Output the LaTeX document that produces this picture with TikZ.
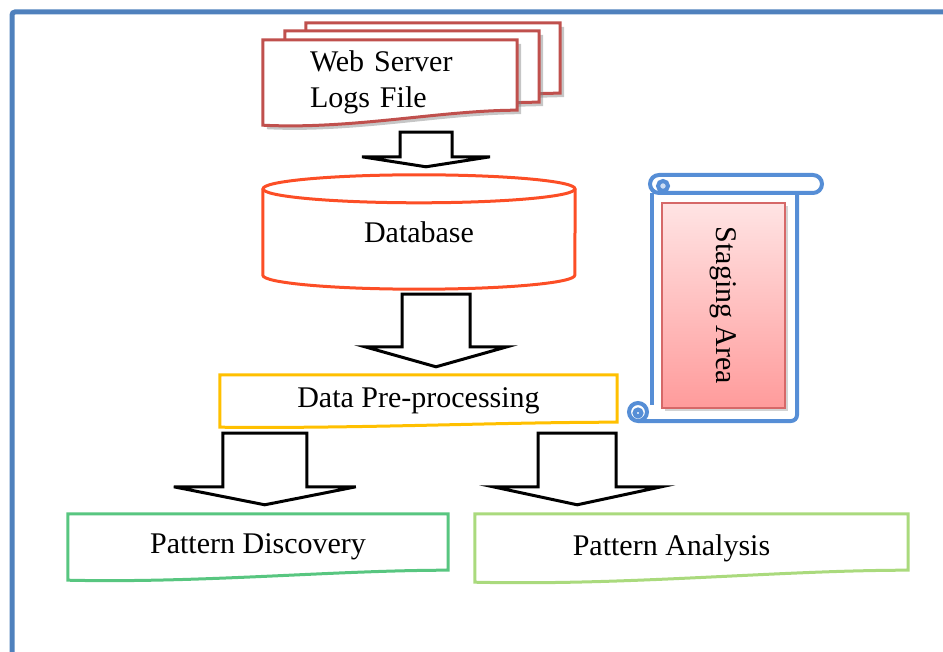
\documentclass[tikz,border=0pt]{standalone}
\usepackage{fontspec}
\setmainfont{Liberation Serif}
\usetikzlibrary{calc,shadows,backgrounds}

\definecolor{framebl}{RGB}{79,129,189}
\definecolor{logred}{RGB}{192,80,77}
\definecolor{dbred}{RGB}{252,78,38}
\definecolor{prepyel}{RGB}{255,192,0}
\definecolor{discgreen}{RGB}{88,198,128}
\definecolor{analgreen}{RGB}{170,218,125}
\definecolor{scrollbl}{RGB}{86,142,214}
\definecolor{pinktop}{RGB}{255,228,228}
\definecolor{pinkbot}{RGB}{255,155,155}
\definecolor{pinkline}{RGB}{214,104,104}

\tikzstyle{txt} = [inner sep=0pt, font=\fontsize{30}{36}\selectfont]
\tikzstyle{doc} = [line width=3pt, fill=white]
\tikzstyle{fatarrow} = [draw=black, line width=3pt, fill=white]
\tikzstyle{dbline} = [draw=dbred, line width=3pt]
\tikzstyle{scrollline} = [draw=scrollbl, line width=4pt]

% document outline with a wavy bottom, #2 = rise of the right corner
\newcommand{\docpath}[2]{(#1.north west) -- (#1.north east) -- ($(#1.south east)+(0,-#2)$)
  .. controls ($(#1.south west)!0.7!(#1.south east)+(0,-#2)$)
  and ($(#1.south west)!0.35!(#1.south east)+(0,0.3*#2)$) .. (#1.south west) -- cycle}

% block arrow pointing down: from, to, shaft half width, head half width, head length
\newcommand{\fatarrow}[5]{\draw[fatarrow] let \p1=#1, \p2=#2 in
  (\x1-#3,\y1) -- (\x1+#3,\y1) -- (\x1+#3,\y2+#5) -- (\x1+#4,\y2+#5) -- (\x1,\y2)
  -- (\x1-#4,\y2+#5) -- (\x1-#3,\y2+#5) -- cycle;}

\begin{document}
\begin{tikzpicture}[x=1pt,y=-1pt]
\useasboundingbox (0,0) rectangle (943,652);

% nodes
\node[txt, minimum width=254pt, minimum height=85pt, text width=160pt, align=left] (logs) at (390,82.5) {Web Server\\Logs File};
\node[txt, minimum width=254pt, minimum height=85pt] (logs2) at ($(logs)+(22,-9)$) {};
\node[txt, minimum width=254pt, minimum height=85pt] (logs3) at ($(logs)+(43,-17)$) {};
\node[txt, minimum width=312pt, minimum height=114pt] (db) at (419,232) {\raisebox{-3pt}{Database}};
\node[txt, minimum width=397pt, minimum height=52pt] (prep) at (418.5,401) {Data Pre-processing};
\node[txt, minimum width=380pt, minimum height=66pt] (disc) at (258,547) {Pattern Discovery};
\node[txt, minimum width=433pt, minimum height=68pt] (anal) at (691.5,548) {\hspace*{-40pt}Pattern Analysis};

\begin{scope}[on background layer]
% frame
\draw[framebl, line width=5pt, rounded corners=3pt] (12,652) -- (12,12) -- (943,12);

% stack of log files
\draw[doc, draw=logred, drop shadow={shadow xshift=4pt, shadow yshift=-4pt, opacity=0.45}] \docpath{logs3}{15};
\draw[doc, draw=logred, drop shadow={shadow xshift=4pt, shadow yshift=-4pt, opacity=0.45}] \docpath{logs2}{14};
\draw[doc, draw=logred, drop shadow={shadow xshift=4pt, shadow yshift=-4pt, opacity=0.45}] \docpath{logs}{15};

% database
\draw[dbline] ($(db.north west)+(0,14)$) -- ($(db.south west)+(0,-14)$)
  arc[start angle=180, end angle=0, x radius=156, y radius=14] -- ($(db.north east)+(0,14)$);
\draw[dbline] ($(db.north)+(0,14)$) ellipse[x radius=156, y radius=14];

% the other documents
\draw[doc, draw=prepyel] \docpath{prep}{5};
\draw[doc, draw=discgreen] \docpath{disc}{10};
\draw[doc, draw=analgreen] \docpath{anal}{12};

% scroll
\draw[scrollline] (652,193) -- (652,405);
\draw[scrollline, rounded corners=6pt] (638,421) -- (797,421) -- (797,193);
\draw[scrollline, fill=white, rounded corners=9pt] (650,175) rectangle (822,193);
\draw[scrollline, fill=scrollbl!30] (663,186) circle[radius=5];
\draw[scrollline, fill=white] (638,412) circle[radius=9];
\draw[scrollline, fill=scrollbl!30] (638,413) circle[radius=3.5];
\end{scope}

\node[txt, rotate=-90, minimum width=205pt, minimum height=123pt, draw=pinkline, line width=1.5pt,
  top color=pinktop, bottom color=pinkbot, drop shadow={shadow xshift=3pt, shadow yshift=-3pt, opacity=0.35}]
  (stage) at (723.5,305.5) {Staging Area};

% block arrows
\fatarrow{($(logs.south)+(36,7)$)}{($(db.north)+(0,-8)$)}{26pt}{64pt}{10pt}
\fatarrow{($(db.south)+(17,5)$)}{($(prep.north)+(0,-8)$)}{34pt}{71pt}{20pt}
\fatarrow{($(prep.south west)+(45,6)$)}{($(disc.north)+(0,-9)$)}{42pt}{91pt}{18pt}
\fatarrow{($(prep.south east)+(-40,6)$)}{($(anal.north)+(0,-9)$)}{39pt}{84pt}{18pt}
\end{tikzpicture}
\end{document}
